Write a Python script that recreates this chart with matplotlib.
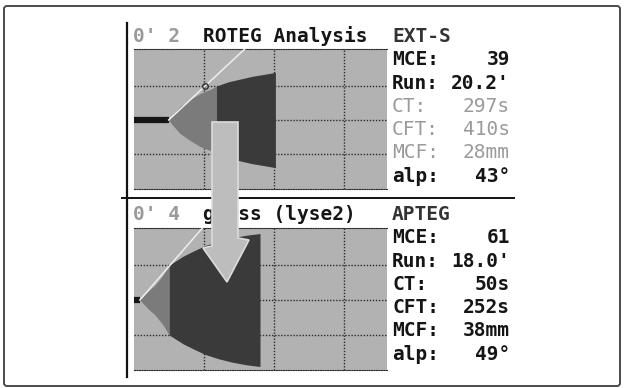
import numpy as np
import matplotlib.pyplot as plt
from matplotlib.patches import Polygon, FancyBboxPatch

W, H = 625, 388

# EXT-S channel (upper trace): time in minutes, amplitude in mm
ext_t = [4.95, 5.5, 6.6, 8.0, 9.4, 10.9, 11.78, 13.5, 15.1, 16.9, 18.5, 20.2]
ext_amp = [0, 3, 8, 12, 15.5, 18, 20, 22.5, 24, 25.7, 26.8, 28]
ext_vals = {"MCE": 39, "Run": 20.2, "CT": 297, "CFT": 410, "MCF": 28, "alp": 43}

# APTEG channel (lower trace)
apt_t = [0.83, 2.0, 3.0, 4.1, 5.03, 7.0, 8.5, 10.1, 12.0, 14.0, 16.0, 18.0]
apt_amp = [0, 5, 8.5, 14, 20, 25, 28, 31, 33.5, 35.5, 37, 38]
apt_vals = {"MCE": 61, "Run": 18.0, "CT": 50, "CFT": 252, "MCF": 38, "alp": 49}

BG = "#b2b2b2"
MID = "#7b7b7b"
DARK = "#3a3a3a"
GREY_TXT = "#9a9a9a"
INK = "#151515"
MONO = "DejaVu Sans Mono"
FS = 14

fig = plt.figure(figsize=(W / 100, H / 100), dpi=100)
fig.patch.set_facecolor("white")


def trace_axes(x0, y0, x1, y1, y_mid, px_mm):
    ax = fig.add_axes([x0 / W, 1 - y1 / H, (x1 - x0) / W, (y1 - y0) / H])
    ax.set_facecolor(BG)
    ax.set_xlim(0, (x1 - x0) / 7.0)
    ax.set_ylim(-(y1 - y_mid) / px_mm, (y_mid - y0) / px_mm)
    ax.set_xticks([10, 20, 30])
    ax.set_yticks([-20, 0, 20])
    ax.tick_params(length=0, labelbottom=False, labelleft=False)
    ax.grid(True, color="#2b2b2b", linestyle=(0, (1, 1.2)), linewidth=1)
    ax.set_axisbelow(True)
    for side in ("left", "right"):
        ax.spines[side].set_visible(False)
    for side in ("top", "bottom"):
        ax.spines[side].set_linestyle((0, (1, 1.2)))
        ax.spines[side].set_color("#2b2b2b")
    return ax, 7.0 / px_mm


def draw_trace(ax, ratio, t, amp, vals, marker=False):
    t = np.array(t)
    amp = np.array(amp)
    ct = vals["CT"] / 60
    split = (vals["CT"] + vals["CFT"]) / 60
    ax.plot([0, ct], [0, 0], color="#161616", lw=4.5, solid_capstyle="butt", zorder=3)
    m = t <= split + 0.02
    ax.fill_between(t[m], -amp[m], amp[m], color=MID, lw=0, zorder=2)
    d = t >= split - 0.02
    ax.fill_between(t[d], -amp[d], amp[d], color=DARK, lw=0, zorder=2)
    slope = np.tan(np.radians(vals["alp"])) * ratio
    ax.plot([ct, ct + 50 / slope], [0, 50], color="#eeeeee", lw=1.1, zorder=4)
    if marker:
        ax.plot([ct + 20 / slope], [20], "o", ms=4, mfc="none", mec="#333333", mew=1, zorder=5)


ax1, r1 = trace_axes(134, 49, 387, 189, 120, 1.7)
draw_trace(ax1, r1, ext_t, ext_amp, ext_vals, marker=True)
ax2, r2 = trace_axes(134, 228, 387, 370, 300, 1.75)
draw_trace(ax2, r2, apt_t, apt_amp, apt_vals)

# overlay in pixel coordinates for frame, rules, arrow and text
ov = fig.add_axes([0, 0, 1, 1])
ov.set_xlim(0, W)
ov.set_ylim(H, 0)
ov.axis("off")
ov.set_zorder(5)
ov.patch.set_visible(False)

ov.add_patch(FancyBboxPatch((4, 6), 616, 380, boxstyle="round,pad=0,rounding_size=3",
                            fill=False, ec="#4a4a4a", lw=1.4))
ov.plot([127, 127], [23, 377], color="#111111", lw=1.6)
ov.plot([122, 514], [198, 198], color="#111111", lw=1.4)

arrow = [(212, 122), (238, 122), (238, 238), (249, 240), (227, 282), (203, 248), (212, 246)]
ov.add_patch(Polygon(arrow, closed=True, fc="#bdbdbd", ec="#dcdcdc", lw=1.2, zorder=6))


def panel_text(base, num, title, name, vals, grey_rows=()):
    ov.text(133, base, f"0' {num}", family=MONO, size=FS, color=GREY_TXT, weight="bold", va="baseline")
    ov.text(203, base, title, family=MONO, size=FS, weight="bold", color=INK, va="baseline", zorder=5)
    ov.text(392, base, name, family=MONO, size=FS, color="#333333", weight="bold", va="baseline")
    rows = [
        ("MCE:", f"{vals['MCE']}"),
        ("Run:", f"{vals['Run']:.1f}'"),
        ("CT:", f"{vals['CT']}s"),
        ("CFT:", f"{vals['CFT']}s"),
        ("MCF:", f"{vals['MCF']}mm"),
        ("alp:", f"{vals['alp']}°"),
    ]
    for i, (lab, val) in enumerate(rows):
        y = base + 23.3 * (i + 1)
        grey = lab in grey_rows
        col = GREY_TXT if grey else INK
        wt = "normal" if grey else "bold"
        ov.text(392, y, lab, family=MONO, size=FS, color=col, weight=wt, va="baseline")
        ov.text(510, y, val, family=MONO, size=FS, color=col, weight=wt, va="baseline", ha="right")


panel_text(42, 2, "ROTEG Analysis", "EXT-S", ext_vals, grey_rows=("CT:", "CFT:", "MCF:"))
panel_text(220, 4, "glass (lyse2)", "APTEG", apt_vals)

fig.savefig("out.png", dpi=100)
